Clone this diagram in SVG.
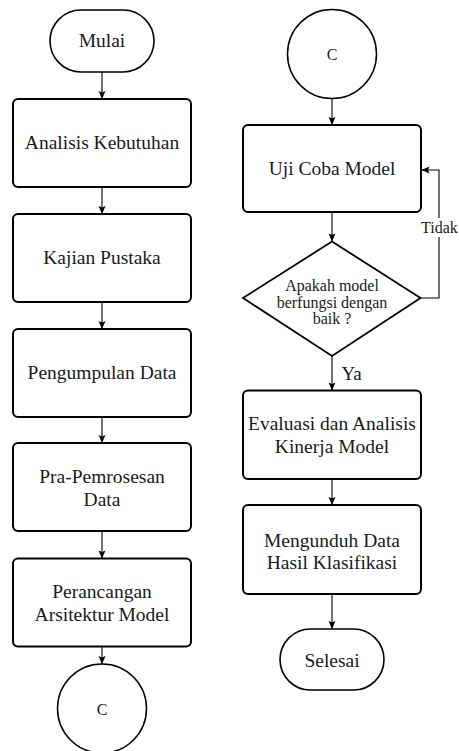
<svg xmlns="http://www.w3.org/2000/svg" width="459" height="751" viewBox="0 0 459 751" font-family="Liberation Serif, Times New Roman, serif">
<defs>
<marker id="ah" markerUnits="userSpaceOnUse" markerWidth="10" markerHeight="10" viewBox="0 0 10 10" refX="9" refY="5" orient="auto">
<path d="M1,1.5 L9,5 L1,8.5 L2.5,5 Z" fill="#000"/>
</marker>
<style>
.box{fill:#fff;stroke:#000;stroke-width:2}
.term{fill:#fff;stroke:#000;stroke-width:1.6}
.circ{fill:#fff;stroke:#000;stroke-width:1.5}
.dia{fill:#fff;stroke:#000;stroke-width:1.8}
text{font-family:"Liberation Serif","Times New Roman",serif;fill:#1a1a1a;text-anchor:middle}
.t{font-size:19.5px}
.s{font-size:16px}
.c{fill:none;stroke:#000;stroke-width:1.1}
</style>
</defs>
<rect width="459" height="751" fill="#fff"/>
<g id="connectors">
<line class="c" x1="102" y1="72" x2="102" y2="99" marker-end="url(#ah)"/>
<line class="c" x1="102" y1="187" x2="102" y2="214" marker-end="url(#ah)"/>
<line class="c" x1="102" y1="302" x2="102" y2="329" marker-end="url(#ah)"/>
<line class="c" x1="102" y1="417" x2="102" y2="443" marker-end="url(#ah)"/>
<line class="c" x1="102" y1="531" x2="102" y2="558.5" marker-end="url(#ah)"/>
<line class="c" x1="102" y1="646.5" x2="102" y2="664" marker-end="url(#ah)"/>
<line class="c" x1="332" y1="98.5" x2="332" y2="125" marker-end="url(#ah)"/>
<line class="c" x1="332" y1="212" x2="332" y2="241.5" marker-end="url(#ah)"/>
<line class="c" x1="332" y1="356" x2="332" y2="390.5" marker-end="url(#ah)"/>
<line class="c" x1="332" y1="479" x2="332" y2="505" marker-end="url(#ah)"/>
<line class="c" x1="332" y1="594" x2="332" y2="629" marker-end="url(#ah)"/>
<polyline class="c" points="420.5,298 439,298 439,170 421.5,170" marker-end="url(#ah)"/>
<rect x="420" y="218" width="39" height="19" fill="#fff"/>
<text class="s" x="439.5" y="232.5" font-size="16.5">Tidak</text>
<text class="t" x="341.5" y="380" style="text-anchor:start;font-size:19px">Ya</text>
</g>
<g id="mulai">
<rect class="term" x="50" y="10" width="104" height="62" rx="31" ry="31"/>
<text class="t" x="102" y="47">Mulai</text>
</g>
<g id="analisis">
<rect class="box" x="13" y="99" width="178" height="88" rx="5"/>
<text class="t" x="102" y="149">Analisis Kebutuhan</text>
</g>
<g id="kajian">
<rect class="box" x="13" y="214" width="178" height="88" rx="5"/>
<text class="t" x="102" y="264">Kajian Pustaka</text>
</g>
<g id="pengumpulan">
<rect class="box" x="13" y="329" width="178" height="88" rx="5"/>
<text class="t" x="102" y="379">Pengumpulan Data</text>
</g>
<g id="prapemrosesan">
<rect class="box" x="13" y="443" width="178" height="88" rx="5"/>
<text class="t" x="102" y="482.5">Pra-Pemrosesan</text>
<text class="t" x="102" y="506">Data</text>
</g>
<g id="perancangan">
<rect class="box" x="13" y="558.5" width="178" height="88" rx="5"/>
<text class="t" x="102" y="598">Perancangan</text>
<text class="t" x="102" y="620.5">Arsitektur Model</text>
</g>
<g id="c-left">
<circle class="circ" cx="102" cy="708.5" r="44.5"/>
<text class="s" x="102" y="714.5">C</text>
</g>
<g id="c-right">
<circle class="circ" cx="332" cy="54" r="44.5"/>
<text class="s" x="332" y="60">C</text>
</g>
<g id="ujicoba">
<rect class="box" x="243" y="125" width="178" height="87" rx="5"/>
<text class="t" x="332" y="175">Uji Coba Model</text>
</g>
<g id="keputusan">
<polygon class="dia" points="332,241.5 420.5,298 332,356 243,298"/>
<text class="s" x="332" y="291">Apakah model</text>
<text class="s" x="332" y="307.5">berfungsi dengan</text>
<text class="s" x="332" y="324">baik ?</text>
</g>
<g id="evaluasi">
<rect class="box" x="243" y="390.5" width="178" height="88.5" rx="5"/>
<text class="t" x="332" y="430">Evaluasi dan Analisis</text>
<text class="t" x="332" y="452.5">Kinerja Model</text>
</g>
<g id="mengunduh">
<rect class="box" x="243" y="505" width="178" height="89" rx="5"/>
<text class="t" x="332" y="546.5">Mengunduh Data</text>
<text class="t" x="332" y="569">Hasil Klasifikasi</text>
</g>
<g id="selesai">
<rect class="term" x="280" y="629" width="104" height="61" rx="30.5" ry="30.5"/>
<text class="t" x="332" y="666.5">Selesai</text>
</g>
</svg>
